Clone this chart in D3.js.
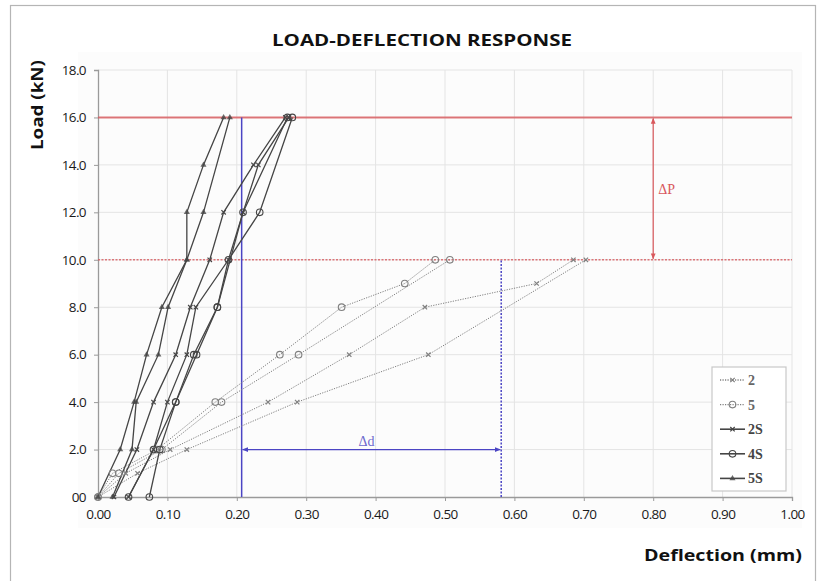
<!DOCTYPE html>
<html><head><meta charset="utf-8">
<script src="https://cdn.jsdelivr.net/npm/d3@7"></script>
<style>
body{margin:0;background:#fff;}
svg{display:block;}
</style></head>
<body>
<svg id="chart" width="824" height="581"></svg>
<script>
// ---------- DATA ----------
const xTicks = [0,0.1,0.2,0.3,0.4,0.5,0.6,0.7,0.8,0.9,1.0];
const xTickLabels = ["0.00","0.10","0.20","0.30","0.40","0.50","0.60","0.70","0.80","0.90","1.00"];
const yTicks = [0,2,4,6,8,10,12,14,16,18];
const yTickLabels = ["00","2.0","4.0","6.0","8.0","10.0","12.0","14.0","16.0","18.0"];
const legendNames = ["2","5","2S","4S","5S"];

// [deflection (mm), load (kN)]
const curve2a  = [[0,0],[0.040,1],[0.104,2],[0.245,4],[0.362,6],[0.471,8],[0.632,9],[0.685,10]];
const curve2b  = [[0,0],[0.057,1],[0.128,2],[0.287,4],[0.476,6],[0.703,10]];
const curve5a  = [[0,0],[0.021,1],[0.085,2],[0.169,4],[0.262,6],[0.351,8],[0.442,9],[0.486,10]];
const curve5b  = [[0,0],[0.030,1],[0.092,2],[0.178,4],[0.289,6],[0.507,10]];
const curve2Sa = [[0.023,0],[0.056,2],[0.080,4],[0.112,6],[0.133,8],[0.161,10],[0.181,12],[0.224,14],[0.270,16]];
const curve2Sb = [[0.044,0],[0.080,2],[0.100,4],[0.128,6],[0.141,8],[0.188,10],[0.209,12],[0.231,14],[0.275,16]];
const curve4Sa = [[0.074,0],[0.089,2],[0.112,4],[0.142,6],[0.172,8],[0.188,10],[0.233,12],[0.280,16]];
const curve4Sb = [[0.044,0],[0.080,2],[0.112,4],[0.138,6],[0.172,8],[0.209,12],[0.273,16]];
const curve5Sa = [[0,0],[0.032,2],[0.052,4],[0.070,6],[0.092,8],[0.128,10],[0.128,12],[0.152,14],[0.181,16]];
const curve5Sb = [[0.021,0],[0.049,2],[0.055,4],[0.087,6],[0.101,8],[0.128,10],[0.152,12],[0.190,16]];

const peakLoad = 16, serviceLoad = 10;
const dStart = 0.207, dEnd = 0.581, dLoad = 2;
const pArrowX = 0.80;

// ---------- SETUP ----------
const svg = d3.select("#chart");
const x = d3.scaleLinear().domain([0,1]).range([98,792]);
const y = d3.scaleLinear().domain([0,18]).range([497,70]);
const tickFont = "'Open Sans', sans-serif";

// frame
svg.append("rect").attr("x",10.5).attr("y",5.5).attr("width",805).attr("height",590)
  .attr("fill","#fff").attr("stroke","#b5b5b5").attr("stroke-width",1.2);
svg.append("rect").attr("x",78).attr("y",52).attr("width",724).attr("height",476).attr("fill","#fcfcfc");

// title
svg.append("text").attr("x",422).attr("y",46).attr("text-anchor","middle")
  .attr("font-family","'Open Sans', sans-serif").attr("font-weight",700).attr("font-size",16.5)
  .attr("textLength",300).attr("lengthAdjust","spacingAndGlyphs")
  .attr("fill","#111").text("LOAD-DEFLECTION RESPONSE");

// grid
const grid = svg.append("g");
grid.selectAll(".gx").data(xTicks.slice(1)).join("line")
  .attr("x1",d=>x(d)).attr("x2",d=>x(d)).attr("y1",y(0)).attr("y2",y(18))
  .attr("stroke","#e4e4e4").attr("stroke-width",1);
grid.selectAll(".gy").data(yTicks.slice(1)).join("line")
  .attr("x1",x(0)).attr("x2",x(1)).attr("y1",d=>y(d)).attr("y2",d=>y(d))
  .attr("stroke","#e4e4e4").attr("stroke-width",1);

// axes
const xAxis = d3.axisBottom(x).tickValues(xTicks).tickFormat((d,i)=>xTickLabels[i]).tickSize(4).tickPadding(8);
const yAxis = d3.axisLeft(y).tickValues(yTicks).tickFormat((d,i)=>yTickLabels[i]).tickSize(4).tickPadding(8);
const gx = svg.append("g").attr("transform",`translate(0,${y(0)})`).call(xAxis);
const gy = svg.append("g").attr("transform",`translate(${x(0)},0)`).call(yAxis);
[gx,gy].forEach(g=>{
  g.select(".domain").attr("stroke","#9a9a9a").attr("stroke-width",1.3);
  g.selectAll(".tick line").attr("stroke","#9a9a9a");
  g.selectAll(".tick text").attr("font-family",tickFont).attr("font-size",13.5).attr("fill","#1a1a1a")
    .attr("letter-spacing","-0.6");
});

// axis titles
svg.append("text").attr("transform","translate(43,60) rotate(-90)").attr("text-anchor","end")
  .attr("font-family","'Open Sans', sans-serif").attr("font-weight",700).attr("font-size",15.5)
  .attr("textLength",90).attr("lengthAdjust","spacingAndGlyphs")
  .attr("fill","#111").text("Load (kN)");
svg.append("text").attr("x",802).attr("y",561).attr("text-anchor","end")
  .attr("font-family","'Open Sans', sans-serif").attr("font-weight",700).attr("font-size",16)
  .attr("textLength",158).attr("lengthAdjust","spacingAndGlyphs")
  .attr("fill","#111").text("Deflection (mm)");

// reference lines
const red = "#d9585c", blue = "#4b45c4";
svg.append("line").attr("x1",x(0)).attr("x2",x(1)).attr("y1",y(peakLoad)).attr("y2",y(peakLoad))
  .attr("stroke",red).attr("stroke-width",2).attr("opacity",0.8);
svg.append("line").attr("x1",x(0)).attr("x2",x(1)).attr("y1",y(serviceLoad)).attr("y2",y(serviceLoad))
  .attr("stroke",red).attr("stroke-width",1.6).attr("stroke-dasharray","2,1.5").attr("opacity",0.8);
svg.append("line").attr("x1",x(dStart)).attr("x2",x(dStart)).attr("y1",y(0)).attr("y2",y(peakLoad))
  .attr("stroke",blue).attr("stroke-width",1.5);
svg.append("line").attr("x1",x(dEnd)).attr("x2",x(dEnd)).attr("y1",y(0)).attr("y2",y(serviceLoad))
  .attr("stroke",blue).attr("stroke-width",1.5).attr("stroke-dasharray","2,1.5");

const defs = svg.append("defs");
function arrow(id,color){
  defs.append("marker").attr("id",id).attr("viewBox","0 0 10 10").attr("refX",9).attr("refY",5)
    .attr("markerWidth",5).attr("markerHeight",5).attr("orient","auto-start-reverse")
    .append("path").attr("d","M0,1 L10,5 L0,9 Z").attr("fill",color);
}
arrow("ar",red); arrow("ab",blue);
svg.append("line").attr("x1",x(pArrowX)).attr("x2",x(pArrowX)).attr("y1",y(peakLoad)+1).attr("y2",y(serviceLoad)-1)
  .attr("stroke",red).attr("stroke-width",1.2).attr("marker-start","url(#ar)").attr("marker-end","url(#ar)");
svg.append("text").attr("x",x(pArrowX)+5).attr("y",y(13)+5).attr("font-family","'Liberation Serif', serif")
  .attr("font-size",14).attr("fill",red).text("ΔP");
svg.append("line").attr("x1",x(dStart)+1).attr("x2",x(dEnd)-1).attr("y1",y(dLoad)).attr("y2",y(dLoad))
  .attr("stroke",blue).attr("stroke-width",1.2).attr("marker-start","url(#ab)").attr("marker-end","url(#ab)");
svg.append("text").attr("x",x((dStart+dEnd)/2)-5).attr("y",y(dLoad)-4).attr("text-anchor","middle")
  .attr("font-family","'Liberation Serif', serif").attr("font-size",14).attr("fill",blue).attr("opacity",0.8).text("Δd");

// series
const series = [
  {name:"2",  data:curve2a,  dash:"1.2,1.3", color:"#808080", w:1,   mk:"x"},
  {name:"2",  data:curve2b,  dash:"1.2,1.3", color:"#808080", w:1,   mk:"x"},
  {name:"5",  data:curve5a,  dash:"1.2,1.3", color:"#808080", w:1,   mk:"o"},
  {name:"5",  data:curve5b,  dash:"1.2,1.3", color:"#808080", w:1,   mk:"o"},
  {name:"2S", data:curve2Sa, dash:null,      color:"#454545", w:1.3, mk:"x"},
  {name:"2S", data:curve2Sb, dash:null,      color:"#454545", w:1.3, mk:"x"},
  {name:"4S", data:curve4Sa, dash:null,      color:"#454545", w:1.3, mk:"o"},
  {name:"4S", data:curve4Sb, dash:null,      color:"#454545", w:1.3, mk:"o"},
  {name:"5S", data:curve5Sa, dash:null,      color:"#454545", w:1.3, mk:"t"},
  {name:"5S", data:curve5Sb, dash:null,      color:"#454545", w:1.3, mk:"t"}
];
const line = d3.line().x(d=>x(d[0])).y(d=>y(d[1]));
function drawMarker(g,cx,cy,mk,color){
  if(mk==="x"){
    g.append("path").attr("d",`M${cx-2.2},${cy-2.2}L${cx+2.2},${cy+2.2}M${cx-2.2},${cy+2.2}L${cx+2.2},${cy-2.2}`)
      .attr("stroke",color).attr("stroke-width",1.2).attr("fill","none");
  } else if(mk==="o"){
    g.append("circle").attr("cx",cx).attr("cy",cy).attr("r",3.3).attr("fill","none")
      .attr("stroke",color).attr("stroke-width",1.1);
  } else {
    g.append("path").attr("d",d3.symbol(d3.symbolTriangle,16)()).attr("transform",`translate(${cx},${cy})`)
      .attr("fill",color).attr("opacity",0.8);
  }
}
const sg = svg.append("g");
series.forEach(s=>{
  sg.append("path").datum(s.data).attr("d",line).attr("fill","none").attr("stroke",s.color)
    .attr("stroke-width",s.w).attr("stroke-dasharray",s.dash);
});
series.forEach(s=>{
  s.data.forEach(d=>drawMarker(sg,x(d[0]),y(d[1]),s.mk,s.color));
});

// legend
const lg = svg.append("g");
lg.append("rect").attr("x",712).attr("y",367).attr("width",74).attr("height",124)
  .attr("fill","#fff").attr("stroke","#c8c8c8").attr("stroke-width",1.2);
const legendStyle = [series[0],series[2],series[4],series[6],series[8]];
legendNames.forEach((n,i)=>{
  const ly = 380 + i*24.6;
  const st = legendStyle[i];
  lg.append("line").attr("x1",720).attr("x2",745).attr("y1",ly).attr("y2",ly)
    .attr("stroke",st.color).attr("stroke-width",st.w+0.3).attr("stroke-dasharray",st.dash);
  drawMarker(lg,732.5,ly,st.mk,st.color);
  lg.append("text").attr("x",748).attr("y",ly+5).attr("font-family","'Liberation Serif', serif")
    .attr("font-weight",700).attr("font-size",14).attr("fill",i<2?"#666":"#444").text(n);
});
</script>
</body></html>
